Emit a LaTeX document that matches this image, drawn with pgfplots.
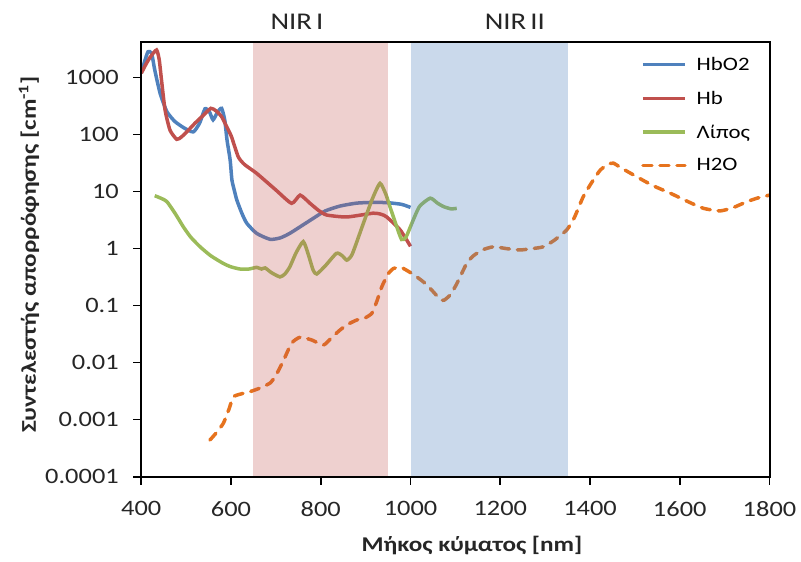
\documentclass[border=0pt]{standalone}
\usepackage{fontspec}
\setmainfont{Carlito}[FakeStretch=1.2]
\usepackage{pgfplots}
\pgfplotsset{compat=1.18}
\definecolor{cblue}{RGB}{79,129,189}
\definecolor{cred}{RGB}{192,80,77}
\definecolor{cgreen}{RGB}{155,187,89}
\definecolor{corange}{RGB}{230,115,30}
\pgfplotstableread{
x y
400 1200
408 2000
415 2850
423 2680
430 1365
442 530
457 254
475 170
497 129
516 112
530 160
542 285
552 250
560 182
570 250
579 290
586 180
591 81
598 36
602 16
608 10
613 7.1
624 4.2
635 2.8
657 1.86
687 1.46
710 1.55
731 1.86
760 2.6
783 3.4
810 4.6
843 5.6
880 6.3
920 6.5
950 6.4
980 6.0
1000 5.3
}\hbotwo
\pgfplotstableread{
x y
400 1200
410 1700
420 2300
434 3060
440 2050
445 910
453 270
464 120
479 83
490 92
505 120
520 160
535 207
555 290
567 260
579 207
590 140
601 92
616 41
630 30
657 21
700 10.7
735 6.25
754 8.7
776 6.25
795 4.7
813 3.9
858 3.6
917 4.2
935 4.0
947 3.6
977 2.13
1000 1.1
}\hb
\pgfplotstableread{
x y
430 8.5
445 7.6
457 6.7
475 4.2
494 2.4
510 1.6
531 1.08
555 0.75
583 0.55
600 0.48
620 0.44
640 0.44
657 0.47
668 0.44
676 0.46
690 0.38
709 0.32
720 0.36
731 0.48
745 0.85
761 1.33
772 0.8
783 0.42
791 0.36
810 0.5
835 0.83
848 0.75
858 0.63
870 0.8
895 2.8
915 7.5
932 14
945 9
954 5.5
968 2.6
980 1.45
990 1.6
1003 2.8
1020 5.5
1044 7.7
1060 6.3
1073 5.5
1090 5.0
1103 5.1
}\lipos
\pgfplotstableread{
x y
553 0.00044
568 0.0006
583 0.00087
595 0.0015
605 0.0025
620 0.0028
642 0.0031
665 0.0036
687 0.0044
700 0.006
717 0.011
735 0.022
754 0.028
780 0.025
806 0.0204
825 0.028
843 0.0375
860 0.047
880 0.056
900 0.062
914 0.074
925 0.12
936 0.215
950 0.36
962 0.45
975 0.47
984 0.45
1000 0.38
1014 0.32
1029 0.26
1044 0.2
1066 0.13
1075 0.125
1090 0.16
1105 0.26
1125 0.55
1140 0.75
1160 0.95
1185 1.08
1215 1.0
1244 0.95
1270 1.0
1296 1.08
1320 1.4
1348 2.13
1365 3.5
1385 8.2
1405 15
1423 24
1440 30
1452 31.7
1470 26
1504 18.3
1540 12.8
1579 9.4
1620 6.6
1653 5.1
1690 4.6
1720 5.3
1750 6.7
1775 7.8
1800 8.7
}\water
\begin{document}
\begin{tikzpicture}
\useasboundingbox (-141.3pt,-85.3pt) rectangle (659.7pt,476.7pt);
\begin{axis}[
  at={(0pt,0pt)}, anchor=south west,
  scale only axis, width=628.2pt, height=434.7pt,
  ymode=log, xmin=400, xmax=1800, ymin=0.0001, ymax=4227,
  xtick={400,600,800,1000,1200,1400,1600,1800},
  xticklabels={400,600,800,1000,1200,1400,1600,1800},
  ytick={0.0001,0.001,0.01,0.1,1,10,100,1000},
  yticklabels={0.0001,0.001,0.01,0.1,1,10,100,1000},
  yminorticks=false, xminorticks=false,
  tick pos=left, tick align=outside, major tick length=8pt,
  tick style={black, line width=1.6pt},
  axis line style={black, line width=2pt},
  /pgf/number format/assume math mode=true,
  ticklabel style={font=\fontsize{22}{26}\selectfont, text=black!85},
  xticklabel style={yshift=-13pt},
  yticklabel style={xshift=-11pt},
  axis on top,
  legend style={draw=none, fill=none, at={(0.7955,0.97)}, anchor=north west,
    font=\fontsize{19}{23}\selectfont, row sep=15pt, cells={anchor=west},
    inner sep=0pt, nodes={inner xsep=10pt}},
  legend image code/.code={\draw[#1] (0pt,0pt) -- (42pt,0pt);},
]
\addplot[cblue, line width=3.5pt, smooth, tension=0.35] table {\hbotwo};
\addlegendentry{HbO2}
\addplot[cred, line width=3.5pt, smooth, tension=0.35] table {\hb};
\addlegendentry{Hb}
\addplot[cgreen, line width=3.5pt, smooth, tension=0.35] table {\lipos};
\addlegendentry{Λίπος}
\addplot[corange, line width=3.5pt, smooth, tension=0.35, dash pattern=on 9pt off 8pt, line cap=round] table {\water};
\addlegendentry{H2O}
\fill[cred, fill opacity=0.27] (axis cs:650,0.0001) rectangle (axis cs:950,4227);
\fill[cblue, fill opacity=0.3] (axis cs:1000,0.0001) rectangle (axis cs:1350,4227);
\end{axis}
\node[font=\fontsize{24}{28}\selectfont, text=black!85] at (155.7pt,455pt) {NIR\,I};
\node[font=\fontsize{24}{28}\selectfont, text=black!85] at (373.5pt,455pt) {NIR\,II};
\node[font=\bfseries\fontsize{21}{25}\selectfont, text=black!85] at (330.7pt,-68.3pt) {Μήκος κύματος [nm]};
\node[font=\bfseries\fontsize{21}{25}\selectfont, text=black!85, rotate=90] at (-112.3pt,222pt) {Συντελεστής απορρόφησης [cm\textsuperscript{-1}]};
\end{tikzpicture}
\end{document}
